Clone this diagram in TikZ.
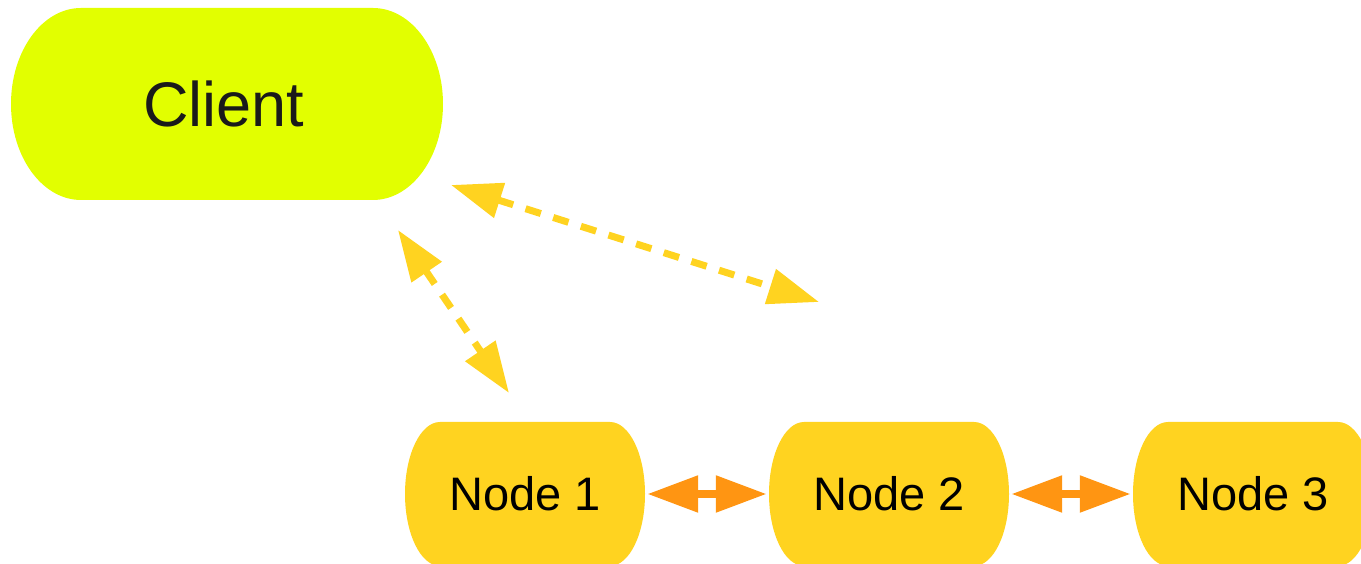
\documentclass[tikz,border=0pt]{standalone}
\usepackage{fontspec}
\setmainfont{Liberation Sans}
\usetikzlibrary{arrows.meta,calc}
\definecolor{clientfill}{RGB}{226,255,0}
\definecolor{nodefill}{RGB}{255,211,32}
\definecolor{linkorange}{RGB}{255,149,18}
\definecolor{inktext}{RGB}{26,26,26}
\tikzset{
  % rectangle with elliptic left and right ends, filled via path picture
  capsule/.style n args={4}{
    shape=rectangle, inner sep=0pt, draw=none,
    minimum width=#1, minimum height=#2,
    path picture={
      \fill[#4]
        ($(path picture bounding box.north west)+(#3,0)$) --
        ($(path picture bounding box.north east)+(-#3,0)$)
        arc[start angle=90, end angle=-90, x radius=#3, y radius=#2/2] --
        ($(path picture bounding box.south west)+(#3,0)$)
        arc[start angle=270, end angle=90, x radius=#3, y radius=#2/2] -- cycle;
    }
  },
  clientbox/.style={capsule={432pt}{192pt}{70pt}{clientfill},
    text=inktext, font=\fontsize{63}{70}\selectfont},
  peerbox/.style={capsule={240pt}{144pt}{35pt}{nodefill},
    text=black, font=\fontsize{47}{54}\selectfont},
  reqlink/.style={draw=nodefill, line width=7pt, dash pattern=on 16pt off 13pt,
    {Triangle[length=51pt,width=35pt]}-{Triangle[length=51pt,width=35pt]}},
  peerlink/.style={draw=linkorange, line width=8.5pt,
    {Triangle[length=51pt,width=35pt]}-{Triangle[length=51pt,width=35pt]},
    shorten <=2pt, shorten >=2pt}
}
\begin{document}
\begin{tikzpicture}[x=1pt,y=1pt]
  \useasboundingbox (0,0) rectangle (1361,564);

  \node[clientbox] (client) at (227,460) {\kern-6pt Client};
  \node[peerbox] (n1) at (525,70) {Node 1};
  \node[peerbox] (n2) at (889,70) {Node 2};
  \node[peerbox] (n3) at (1253,70) {Node 3};

  % free ends of the client links
  \coordinate (l1a) at (398,334);
  \coordinate (l1b) at (509,171);
  \coordinate (l2a) at (451,379);
  \coordinate (l2b) at (819,262);

  \draw[reqlink] (l1a) -- (l1b);
  \draw[reqlink] (l2a) -- (l2b);

  \draw[peerlink] (n1.east) -- (n2.west);
  \draw[peerlink] (n2.east) -- (n3.west);
\end{tikzpicture}
\end{document}
